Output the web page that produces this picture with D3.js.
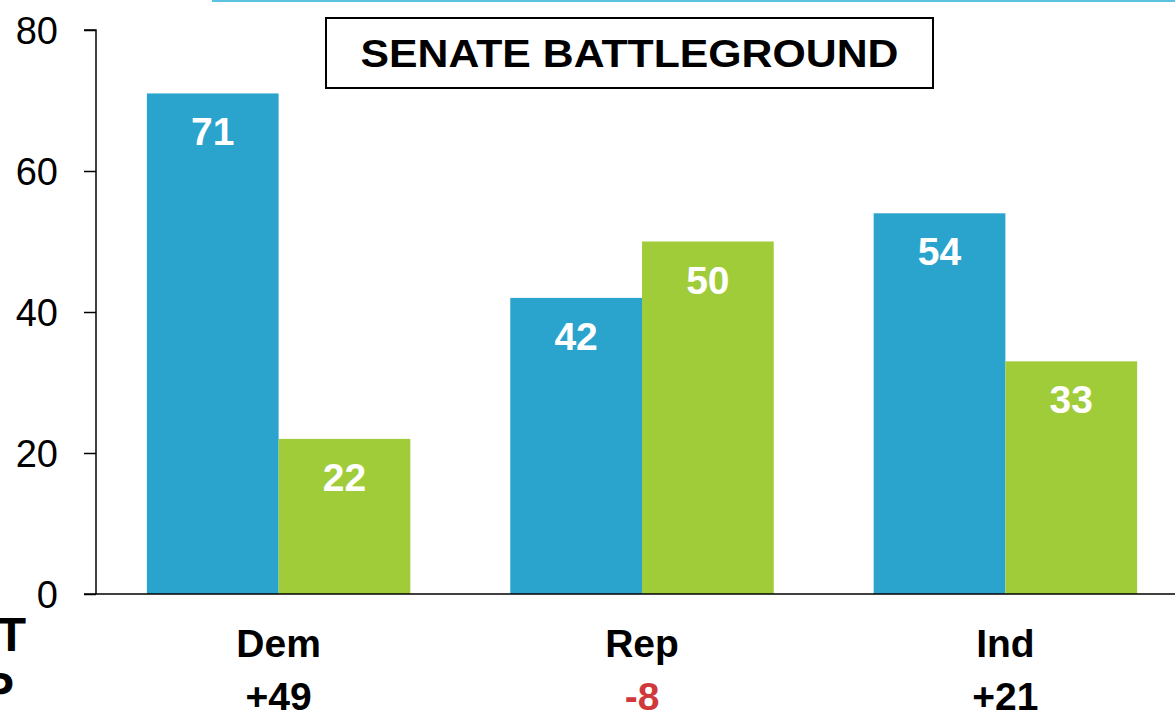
<!DOCTYPE html>
<html>
<head>
<meta charset="utf-8">
<script src="https://cdn.jsdelivr.net/npm/d3@7"></script>
<style>
  html, body { margin: 0; padding: 0; background: #fff; }
  svg { display: block; }
  text { font-family: "Liberation Sans", Arial, sans-serif; }
</style>
</head>
<body>
<svg id="chart" width="1175" height="716"></svg>
<script>
const categories = ["Dem", "Rep", "Ind"];
const seriesNames = ["Series A", "Series B"];
const seriesA = [71, 42, 54];
const seriesB = [22, 50, 33];
const netLabels = ["+49", "-8", "+21"];
const yTicks = [0, 20, 40, 60, 80];
const titleText = "SENATE BATTLEGROUND";
const sideLabels = ["T", "P"];

const colors = ["#2aa3cd", "#a0cc3a"];
const svg = d3.select("#chart");

const x0 = d3.scaleBand().domain(categories).range([96, 1188]).paddingInner(0.275).paddingOuter(0.14);
const x1 = d3.scaleBand().domain(seriesNames).range([0, x0.bandwidth()]).padding(0);
const y = d3.scaleLinear().domain([0, 80]).range([594, 30]);

// top decorative line
svg.append("line").attr("x1", 212).attr("x2", 1175).attr("y1", 1).attr("y2", 1)
  .attr("stroke", "#5bc3df").attr("stroke-width", 2);

const data = categories.map((c, i) => ({ cat: c, vals: [seriesA[i], seriesB[i]] }));

const g = svg.append("g");
const groups = g.selectAll("g.grp").data(data).enter().append("g")
  .attr("transform", d => `translate(${x0(d.cat)},0)`);

groups.selectAll("rect").data(d => d.vals.map((v, j) => ({ v, j })))
  .enter().append("rect")
  .attr("x", d => x1(seriesNames[d.j]))
  .attr("width", x1.bandwidth())
  .attr("y", d => y(d.v))
  .attr("height", d => y(0) - y(d.v))
  .attr("fill", d => colors[d.j]);

groups.selectAll("text.val").data(d => d.vals.map((v, j) => ({ v, j })))
  .enter().append("text")
  .attr("class", "val")
  .attr("x", d => x1(seriesNames[d.j]) + x1.bandwidth() / 2)
  .attr("y", d => y(d.v) + 52)
  .attr("text-anchor", "middle")
  .attr("fill", "#fff")
  .attr("font-weight", "bold")
  .attr("font-size", 39)
  .text(d => d.v);

// y axis
const yAxis = d3.axisLeft(y).tickValues(yTicks).tickSize(12).tickPadding(26);
const ya = svg.append("g").attr("transform", "translate(96,0)").call(yAxis);
ya.select(".domain").attr("stroke", "#000").attr("stroke-width", 1.5).attr("d", `M-12,${y(80)}H0V${y(0)}`);
ya.selectAll(".tick line").attr("stroke", "#000").attr("stroke-width", 1.5);
ya.selectAll(".tick text").attr("font-size", 38).attr("fill", "#000")
  .attr("font-family", "'Liberation Sans', Arial, sans-serif").attr("dy", "0.35em");

// x axis baseline
svg.append("line").attr("x1", 84).attr("x2", 1175).attr("y1", y(0)).attr("y2", y(0))
  .attr("stroke", "#000").attr("stroke-width", 1.5);

// category labels
svg.selectAll("text.cat").data(categories).enter().append("text")
  .attr("class", "cat")
  .attr("x", d => x0(d) + x0.bandwidth() / 2)
  .attr("y", 657)
  .attr("text-anchor", "middle")
  .attr("font-weight", "bold").attr("font-size", 39).attr("fill", "#000")
  .text(d => d);

svg.selectAll("text.net").data(netLabels).enter().append("text")
  .attr("class", "net")
  .attr("x", (d, i) => x0(categories[i]) + x0.bandwidth() / 2)
  .attr("y", 710)
  .attr("text-anchor", "middle")
  .attr("font-weight", "bold").attr("font-size", 39)
  .attr("fill", d => d.startsWith("-") ? "#d0393b" : "#000")
  .text(d => d);

// cut-off side labels
svg.append("text").attr("x", 26).attr("y", 651).attr("text-anchor", "end")
  .attr("font-weight", "bold").attr("font-size", 48).text(sideLabels[0]);
svg.append("text").attr("x", 14).attr("y", 706).attr("text-anchor", "end")
  .attr("font-weight", "bold").attr("font-size", 48).text(sideLabels[1]);

// title box
svg.append("rect").attr("x", 326).attr("y", 18).attr("width", 607).attr("height", 70)
  .attr("fill", "#fff").attr("stroke", "#000").attr("stroke-width", 2);
svg.append("text").attr("x", 629.5).attr("y", 67).attr("text-anchor", "middle")
  .attr("font-weight", "bold").attr("font-size", 39).attr("fill", "#000")
  .attr("textLength", 538).attr("lengthAdjust", "spacingAndGlyphs")
  .text(titleText);
</script>
</body>
</html>
